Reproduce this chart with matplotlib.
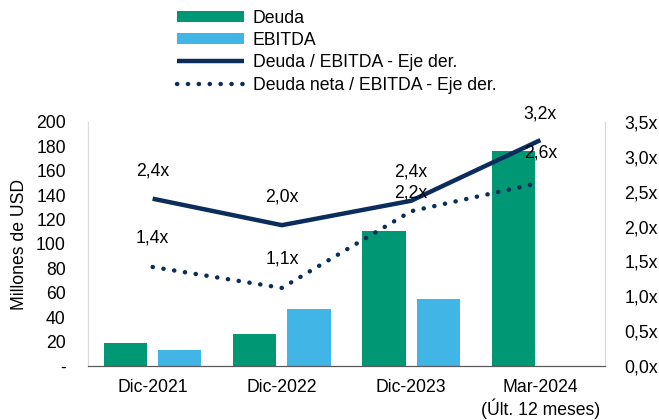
import numpy as np
import matplotlib.pyplot as plt
from matplotlib.ticker import FuncFormatter

plt.rcParams['font.family'] = ['Liberation Sans', 'DejaVu Sans']
plt.rcParams['font.size'] = 12.7

categorias = ['Dic-2021', 'Dic-2022', 'Dic-2023', 'Mar-2024\n(Últ. 12 meses)']
deuda = [19, 26, 111, 176]
ebitda = [13, 47, 55, np.nan]
deuda_ebitda = [2.40, 2.02, 2.37, 3.24]
deuda_neta_ebitda = [1.42, 1.12, 2.22, 2.63]

verde = '#009874'
celeste = '#41b6e6'
azul = '#0b2d5b'

fig = plt.figure(figsize=(6.59, 4.20), dpi=100)
ax = fig.add_axes([88/659, 1-366/420, (605-88)/659, (366-122)/420])
ax2 = ax.twinx()

x = np.arange(len(categorias))
w = 0.333
b1 = ax.bar(x - 0.21, deuda, w, color=verde, label='Deuda')
b2 = ax.bar(x + 0.21, ebitda, w, color=celeste, label='EBITDA')

l1, = ax2.plot(x, deuda_ebitda, color=azul, lw=3.2, solid_capstyle='butt',
               label='Deuda / EBITDA - Eje der.')
l2, = ax2.plot(x, deuda_neta_ebitda, color=azul, lw=3.2, linestyle=(0, (0.05, 2.4)),
               dash_capstyle='round', label='Deuda neta / EBITDA - Eje der.')

# etiquetas de datos (la de 2,2x fue movida a mano en el original)
desp1 = [20, 20, 21, 19]
desp2 = [21, 21, 13, 21]
for i in range(len(x)):
    ax2.annotate(f'{deuda_ebitda[i]:.1f}x'.replace('.', ','), (x[i], deuda_ebitda[i]),
                 xytext=(0, desp1[i]), textcoords='offset points', ha='center', va='center')
    ax2.annotate(f'{deuda_neta_ebitda[i]:.1f}x'.replace('.', ','), (x[i], deuda_neta_ebitda[i]),
                 xytext=(0, desp2[i]), textcoords='offset points', ha='center', va='center')

ax.set_xlim(-0.5, 3.5)
ax.set_ylim(0, 200)
ax.set_yticks(np.arange(0, 201, 20))
ax.yaxis.set_major_formatter(FuncFormatter(lambda v, p: '-' if v == 0 else f'{v:.0f}'))
ax2.set_ylim(0, 3.5)
ax2.set_yticks(np.arange(0, 3.51, 0.5))
ax2.yaxis.set_major_formatter(FuncFormatter(lambda v, p: f'{v:.1f}x'.replace('.', ',')))

ax.set_xticks(x)
ax.set_xticklabels(categorias)
ax.tick_params(axis='x', length=0, pad=9)
ax.tick_params(axis='y', length=0, pad=16)
ax2.tick_params(axis='y', length=0, pad=14)
ax.set_ylabel('Millones de USD', labelpad=6)

for a in (ax, ax2):
    a.spines['top'].set_visible(False)
    a.spines['left'].set_color('#d9d9d9')
    a.spines['right'].set_color('#d9d9d9')
    a.spines['bottom'].set_color('#595959')

fig.legend(handles=[b1, b2, l1, l2], loc='upper left', bbox_to_anchor=(167/659, 1.0),
           frameon=False, handlelength=3.8, handletextpad=0.5, labelspacing=0.3,
           borderpad=0.05, handleheight=0.6)

fig.savefig('out.png', dpi=100)
